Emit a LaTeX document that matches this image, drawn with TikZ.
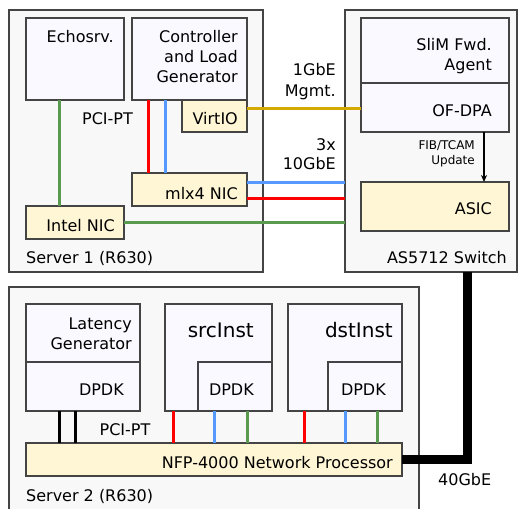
\documentclass[tikz,border=0pt]{standalone}
\usepackage{fontspec}
\setmainfont{DejaVu Sans}
\usetikzlibrary{arrows.meta}
\definecolor{srvfill}{HTML}{F8F8F8}
\definecolor{boxfill}{HTML}{F9F9FF}
\definecolor{nicfill}{HTML}{FFF6D5}
\definecolor{edge}{HTML}{444444}
\definecolor{lred}{HTML}{FF0000}
\definecolor{lblue}{HTML}{5599FF}
\definecolor{lgreen}{HTML}{5A9A4F}
\definecolor{lyellow}{HTML}{D4AA00}
\tikzset{
  srv/.style={draw=edge, fill=srvfill, line width=1.4pt, anchor=north west, inner sep=0pt, outer sep=0pt},
  comp/.style={draw=edge, fill=boxfill, line width=1.4pt, anchor=north west, inner sep=0pt, outer sep=0pt},
  nic/.style={draw=edge, fill=nicfill, line width=1.4pt, anchor=north west, inner sep=0pt, outer sep=0pt},
  lbl/.style={inner sep=0pt, font=\fontsize{16}{20}\selectfont, text=black},
  lblr/.style={lbl, anchor=base east},
  lbll/.style={lbl, anchor=base west},
  lblc/.style={lbl, anchor=base},
  small/.style={inner sep=0pt, font=\fontsize{12}{15}\selectfont, anchor=base east, text=black},
  big/.style={inner sep=0pt, font=\fontsize{20}{24}\selectfont, anchor=base east, text=black},
  wire/.style={line width=3pt},
}
\begin{document}
\begin{tikzpicture}[x=1pt,y=-1pt]
\useasboundingbox (0,0) rectangle (518,508);
\clip (0,0) rectangle (518,508);
% Server 1
\node[srv, minimum width=254pt, minimum height=262pt] (srv1) at (9,10) {};
\node[comp, minimum width=98pt, minimum height=82pt] (echo) at (26,18) {};
\node[comp, minimum width=115pt, minimum height=82pt] (ctrl) at (132,18) {};
\node[nic, minimum width=65pt, minimum height=32pt] (virt) at (182,100) {};
\node[nic, minimum width=115pt, minimum height=33pt] (mlx) at (132,173) {};
\node[nic, minimum width=98pt, minimum height=33pt] (intel) at (26,206) {};
% Switch
\node[srv, minimum width=172pt, minimum height=262pt] (sw) at (345,10) {};
\node[comp, minimum width=148pt, minimum height=65pt] (slim) at (361,18) {};
\node[comp, minimum width=148pt, minimum height=49pt] (ofdpa) at (361,83) {};
\node[nic, minimum width=148pt, minimum height=49pt] (asic) at (361,182) {};
% Server 2
\node[srv, minimum width=410pt, minimum height=240pt] (srv2) at (9,287) {};
\node[comp, minimum width=114pt, minimum height=58pt] (lat) at (26,304) {};
\node[comp, minimum width=114pt, minimum height=49pt] (latd) at (26,362) {};
\node[comp, minimum width=107pt, minimum height=107pt] (src) at (165,304) {};
\node[comp, minimum width=74pt, minimum height=49pt] (srcd) at (198,362) {};
\node[comp, minimum width=114pt, minimum height=107pt] (dst) at (288,304) {};
\node[comp, minimum width=74pt, minimum height=49pt] (dstd) at (328,362) {};
\node[nic, minimum width=376pt, minimum height=33pt] (nfp) at (26,443) {};

% wires server 1
\draw[wire, lgreen] ([xshift=-16pt]echo.south) -- ([xshift=-16pt]echo.south |- intel.north);
\draw[wire, lred] ([xshift=-41.5pt]ctrl.south) -- ([xshift=-41.5pt]ctrl.south |- mlx.north);
\draw[wire, lblue] ([xshift=-24.5pt]ctrl.south) -- ([xshift=-24.5pt]ctrl.south |- mlx.north);
\draw[wire, lyellow] ([yshift=8pt]virt.east) -- ([yshift=8pt]virt.east -| ofdpa.west);
\draw[wire, lblue] ([yshift=7.5pt]mlx.east) -- ([yshift=7.5pt]mlx.east -| sw.west);
\draw[wire, lred] ([yshift=-8.5pt]mlx.east) -- ([yshift=-8.5pt]mlx.east -| sw.west);
\draw[wire, lgreen] ([yshift=0.5pt]intel.east) -- ([yshift=0.5pt]intel.east -| sw.west);
% switch update arrow
\draw[line width=1.2pt, -{Stealth[length=7pt,width=6pt]}] ([xshift=49pt]ofdpa.south) -- ([xshift=49pt]ofdpa.south |- asic.north);
% server 2 wires
\draw[wire, black] ([xshift=-24pt]latd.south) -- ([xshift=-24pt]latd.south |- nfp.north);
\draw[wire, black] ([xshift=-8pt]latd.south) -- ([xshift=-8pt]latd.south |- nfp.north);
\draw[wire, lred] ([xshift=-45.5pt]src.south) -- ([xshift=-45.5pt]src.south |- nfp.north);
\draw[wire, lblue] ([xshift=-21pt]srcd.south) -- ([xshift=-21pt]srcd.south |- nfp.north);
\draw[wire, lgreen] ([xshift=12pt]srcd.south) -- ([xshift=12pt]srcd.south |- nfp.north);
\draw[wire, lred] ([xshift=-41pt]dst.south) -- ([xshift=-41pt]dst.south |- nfp.north);
\draw[wire, lblue] ([xshift=-20pt]dstd.south) -- ([xshift=-20pt]dstd.south |- nfp.north);
\draw[wire, lgreen] ([xshift=12pt]dstd.south) -- ([xshift=12pt]dstd.south |- nfp.north);
% 40GbE link
\draw[line width=9pt, black, line join=miter] (nfp.east) -| ([xshift=36pt]sw.south);

% labels server 1
\node[lblr] (t-echo) at (114,43) {Echosrv.};
\node[lblr] (t-ctrl1) at (238,43) {Controller};
\node[lblr] (t-ctrl2) at (238,63) {and Load};
\node[lblr] (t-ctrl3) at (238,83) {Generator};
\node[lblr] (t-virt) at (238,124) {VirtIO};
\node[lblr] (t-mlx) at (238,199) {mlx4 NIC};
\node[lblr] (t-intel) at (115,231) {Intel NIC};
\node[lblc] (t-pci1) at (107.5,124) {PCI-PT};
\node[lbll] (t-srv1) at (26,263) {Server 1 (R630)};
% labels switch
\node[lblr] (t-slim1) at (492,51) {SliM Fwd.};
\node[lblr] (t-slim2) at (492,71) {Agent};
\node[lblr] (t-ofdpa) at (492,116) {OF-DPA};
\node[lblr] (t-asic) at (492,214) {ASIC};
\node[lblr] (t-sw) at (507,263) {AS5712 Switch};
\node[small] (t-fib1) at (475,149.5) {FIB/TCAM};
\node[small] (t-fib2) at (475,164.5) {Update};
% link labels
\node[lblr] (t-1g1) at (336,76) {1GbE};
\node[lblr] (t-1g2) at (336,96) {Mgmt.};
\node[lblr] (t-10g1) at (336,150) {3x};
\node[lblr] (t-10g2) at (336,169) {10GbE};
% labels server 2
\node[lblr] (t-lat1) at (132,329) {Latency};
\node[lblr] (t-lat2) at (132,349) {Generator};
\node[lblr] (t-latd) at (124,395) {DPDK};
\node[big] (t-src) at (254,337) {srcInst};
\node[lblr] (t-srcd) at (254,395) {DPDK};
\node[big] (t-dst) at (393,337) {dstInst};
\node[lblr] (t-dstd) at (386,395) {DPDK};
\node[lblc] (t-pci2) at (125,435) {PCI-PT};
\node[lblr] (t-nfp) at (393,468) {NFP-4000 Network Processor};
\node[lbll] (t-srv2) at (26,501) {Server 2 (R630)};
\node[lbll] (t-40g) at (438,485) {40GbE};
\end{tikzpicture}
\end{document}
